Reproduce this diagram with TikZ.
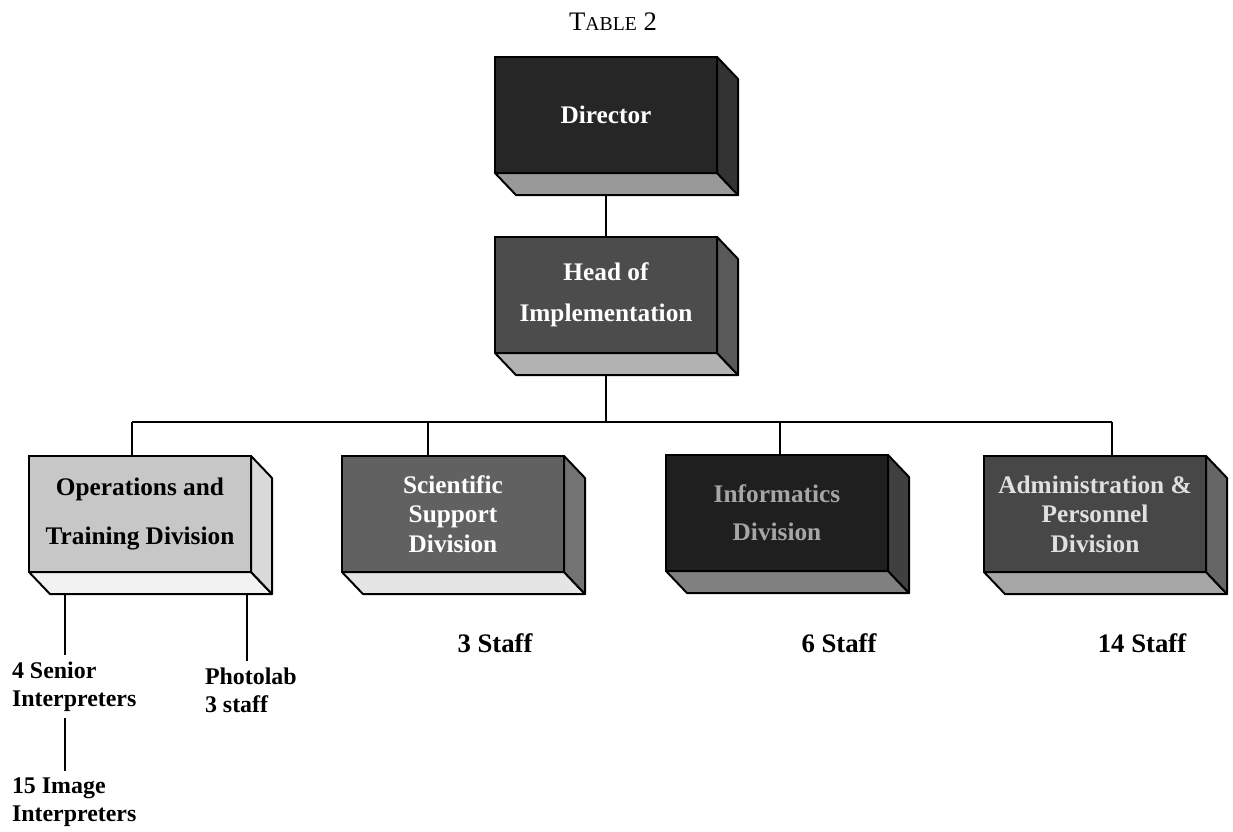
\documentclass[tikz,border=0pt]{standalone}
\usepackage{fontspec}
\setmainfont{Liberation Serif}

% side and bottom faces of a block: node, side colour, bottom colour
\newcommand{\blockdepth}[3]{%
  \filldraw[fill=#3, edge] (#1.south west) -- ++(21,22)
    -- ([shift={(21,22)}]#1.south east) -- (#1.south east) -- cycle;
  \filldraw[fill=#2, edge] (#1.north east) -- ++(21,22)
    -- ([shift={(21,22)}]#1.south east) -- (#1.south east) -- cycle;}

\begin{document}
\begin{tikzpicture}[x=0.025cm, y=-0.025cm,
    block/.style={draw, line width=1.4pt, outer sep=0pt, inner sep=2pt,
      minimum width=5.55cm, minimum height=2.9cm, align=center,
      font=\fontsize{18}{21}\selectfont\bfseries},
    edge/.style={line width=1.4pt, line join=round},
    link/.style={line width=1.3pt},
    staff/.style={inner sep=0pt, outer sep=5pt, align=left, anchor=north west,
      font=\fontsize{17}{19.5}\selectfont\bfseries},
    count/.style={font=\fontsize{19}{22}\selectfont\bfseries}]
    \useasboundingbox (0,0) rectangle (1233,831);

    % 1. Title
    \node[font=\fontsize{19}{22}\selectfont] (title) at (613,22)
        {T{\fontsize{14}{16}\selectfont ABLE} 2};

    % 2. Blocks
    \node[block, fill=black!85, text=white] (dir) at (606,115) {Director};
    \node[block, fill=black!70, text=white] (head) at (606,295)
        {Head of\\[8pt]Implementation};
    \node[block, fill=black!22] (ops) at (140,514)
        {Operations and\\[14pt]Training Division};
    \node[block, fill=black!62, text=white] (sci) at (453,514)
        {Scientific\\Support\\Division\hspace*{0pt}};
    \node[block, fill=black!88, text=black!35] (info) at (777,513)
        {Informatics\\[6pt]Division};
    \node[block, fill=black!72, text=black!12] (admin) at (1095,514)
        {Administration \&\\Personnel\\Division};

    \blockdepth{dir}{black!80}{black!40}
    \blockdepth{head}{black!65}{black!30}
    \blockdepth{ops}{black!15}{black!5}
    \blockdepth{sci}{black!55}{black!10}
    \blockdepth{info}{black!75}{black!50}
    \blockdepth{admin}{black!60}{black!35}

    % 3. Connectors
    \coordinate (d1) at (132,422);
    \coordinate (d2) at (428,422);
    \coordinate (d3) at (780,422);
    \coordinate (d4) at (1112,422);
    \draw[link] ([shift={(0,22)}]dir.south) -- (head.north);
    \draw[link] ([shift={(0,22)}]head.south) -- (head.south |- d1);
    \draw[link] (d1) -- (d4);
    \foreach \b/\d in {ops/d1, sci/d2, info/d3, admin/d4}
        \draw[link] (\d) -- (\d |- \b.north);

    % 4. Staff under the operations division
    \coordinate (s1) at (65,594);
    \coordinate (s2) at (247,594);
    \node[staff] (senior) at (5,655) {4 Senior\\Interpreters};
    \node[staff] (photo) at (198,661) {Photolab\\3 staff};
    \node[staff] (image) at (5,771) {15 Image\\Interpreters};
    \draw[link] (s1) -- (s1 |- senior.north);
    \draw[link] (s2) -- (s2 |- photo.north);
    \draw[link] (s1 |- senior.south) -- (s1 |- image.north);

    % 5. Staff counts
    \node[count] (scistaff) at (495,643) {3 Staff};
    \node[count] (infostaff) at (839,643) {6 Staff};
    \node[count] (adminstaff) at (1142,643) {14 Staff};
\end{tikzpicture}
\end{document}
